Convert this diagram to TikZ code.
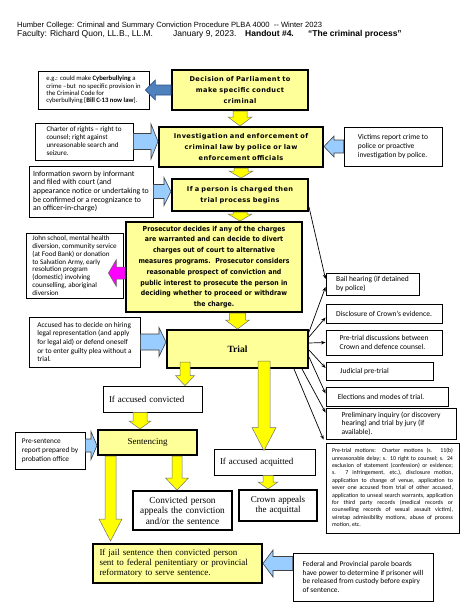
\documentclass[tikz,border=0pt]{standalone}
\usepackage{fontspec}
\setmainfont{Liberation Serif}
\newfontfamily\hdrfont{Liberation Sans}
\newfontfamily\gsfont{Carlito}
\newfontfamily\vbfont[LetterSpace=6]{DejaVu Sans}
\newfontfamily\tbfont[FakeStretch=0.9]{DejaVu Sans}
\usetikzlibrary{calc,arrows.meta}
\definecolor{boxyellow}{HTML}{FFFF99}
\definecolor{arryellow}{HTML}{FFFF00}
\definecolor{lblue}{HTML}{99CCFF}
\definecolor{dblue}{HTML}{4F81BD}
\definecolor{dblueline}{HTML}{2F528F}
\definecolor{pinkarr}{HTML}{FF00FF}
\newcommand\gsz[2]{\gsfont\fontsize{#1}{#2}\selectfont}
\newcommand\vbz[2]{\vbfont\bfseries\fontsize{#1}{#2}\selectfont}
\newcommand\tbz[2]{\tbfont\bfseries\fontsize{#1}{#2}\selectfont}
\newcommand\srz[2]{\rmfamily\fontsize{#1}{#2}\selectfont}
% block arrow: [style]{start}{tip}{shaft half width}{head half width}{head length}
\newcommand\blockarr[6][]{%
  \coordinate (bas) at (#2);
  \coordinate (bae) at (#3);
  \coordinate (bam) at ($(bae)!#6pt!(bas)$);
  \draw[#1] ($(bas)!#4pt!90:(bae)$) -- ($(bam)!#4pt!90:(bae)$) -- ($(bam)!#5pt!90:(bae)$)
    -- (bae) -- ($(bam)!#5pt!-90:(bae)$) -- ($(bam)!#4pt!-90:(bae)$) -- ($(bas)!#4pt!-90:(bae)$) -- cycle;}
\tikzset{
  thinbox/.style={draw=black, line width=0.8pt, fill=white, inner xsep=3pt, inner ysep=1pt, align=left},
  rbox/.style={draw=black, line width=0.9pt, fill=white, inner xsep=3pt, inner ysep=1pt, align=left},
  ybox/.style={draw=black, line width=2pt, fill=boxyellow, inner sep=3pt, align=center},
  wthick/.style={draw=black, line width=2pt, fill=white, inner sep=3pt, align=center},
  yarr/.style={fill=arryellow, draw=black!55, line width=0.5pt, line join=miter},
  barr/.style={fill=lblue, draw=black!75, line width=0.6pt, line join=miter},
  darr/.style={fill=dblue, draw=dblueline, line width=0.6pt, line join=miter},
  parr/.style={fill=pinkarr, draw=black!60, line width=0.5pt, line join=miter},
  conn/.style={draw=black, line width=0.7pt, -{Stealth[length=4.5pt,width=3.5pt]}},
  hdr/.style={inner sep=0pt, anchor=base west, font=\hdrfont}
}
\begin{document}
\begin{tikzpicture}[x=1pt,y=-1pt]
\fill[white] (0,0) rectangle (474,613);
\useasboundingbox (0,0) rectangle (474,613);

% header
\node[hdr] (h1) at (17,27.5) {\fontsize{7.6}{9}\selectfont Humber College: Criminal and Summary Conviction Procedure PLBA 4000\ \ -- Winter 2023};
\node[hdr] (h2) at (17,36.8) {\fontsize{8.5}{10}\selectfont Faculty: Richard Quon, LL.B., LL.M.};
\node[hdr] (h3) at (173,36.8) {\fontsize{8.5}{10}\selectfont January 9, 2023.};
\node[hdr] (h4) at (245,36.8) {\fontsize{8.5}{10}\selectfont\bfseries Handout \#4.};
\node[hdr] (h5) at (308,36.8) {\fontsize{8.5}{10}\selectfont\bfseries “The criminal process”};

% main column
\node[ybox, minimum width=136, minimum height=40, text width=130, font={\vbz{6.6}{11}}] (dec) at (240,90)
  {Decision of Parliament to\\make specific conduct\\criminal};
\node[ybox, minimum width=164, minimum height=40, text width=158, font={\vbz{6.6}{11}}] (inv) at (241,147)
  {Investigation and enforcement of\\criminal law by police or law\\enforcement officials};
\node[ybox, minimum width=136, minimum height=32, text width=130, font={\vbz{6.6}{10.5}}] (charged) at (240,195)
  {If a person is charged then\\trial process begins};
\node[ybox, minimum width=176, minimum height=90, text width=170, font={\tbz{6.9}{10.8}}] (pros) at (214,267)
  {Prosecutor decides if any of the charges\\are warranted and can decide to divert\\charges out of court to alternative\\measures programs.\ \ Prosecutor considers\\reasonable prospect of conviction and\\public interest to prosecute the person in\\deciding whether to proceed or withdraw\\the charge.};
\node[ybox, minimum width=141, minimum height=38, text width=135, font={\srz{9.5}{11}\bfseries}] (trial) at (237.5,349)
  {Trial};
\node[thinbox, inner xsep=6pt, minimum width=99, minimum height=26, text width=87, font={\srz{9}{11}}] (conv) at (152.5,399)
  {If accused convicted};
\node[ybox, minimum width=99, minimum height=25, text width=93, font={\srz{9}{11}}] (sent) at (147.5,442.5)
  {Sentencing};
\node[thinbox, inner xsep=6pt, minimum width=101, minimum height=26, text width=89, font={\srz{9}{11}}] (acq) at (264.5,462)
  {If accused acquitted};
\node[wthick, minimum width=99, minimum height=39, text width=93, font={\srz{9.3}{10.5}}] (appeal) at (182.5,510.5)
  {Convicted person\\appeals the conviction\\and/or the sentence};
\node[wthick, minimum width=78, minimum height=31, text width=72, font={\srz{9}{10.5}}] (crown) at (278,505.5)
  {Crown appeals\\the acquittal};
\node[ybox, align=left, inner xsep=6.5pt, minimum width=169, minimum height=39, text width=156, font={\srz{9}{10}}] (jail) at (177.5,563.5)
  {If jail sentence then convicted person\\sent to federal penitentiary or provincial\\reformatory to serve sentence.};

% left annotations
\node[thinbox, minimum width=111, minimum height=38, font={\gsz{6.7}{7.4}}] (eg) at (93.5,90)
  {e.g.: could make \textbf{Cyberbullying} a\\crime –but\ \ no specific provision in\\the Criminal Code for\\cyberbullying [\textbf{Bill C-13 now law}].};
\node[thinbox, minimum width=98, minimum height=37, font={\gsz{7.1}{8}}] (charter) at (84,141.5)
  {Charter of rights – right to\\counsel; right against\\unreasonable search and\\seizure.};
\node[thinbox, minimum width=124, minimum height=51, font={\gsz{7.8}{8.7}}] (info) at (91,191.5)
  {Information sworn by informant\\and filed with court (and\\appearance notice or undertaking to\\be confirmed or a recognizance to\\an officer-in-charge)};
\node[thinbox, minimum width=97, minimum height=65, font={\gsz{7.1}{7.8}}] (john) at (74.5,265.5)
  {John school, mental health\\diversion, community service\\(at Food Bank) or donation\\to Salvation Army, early\\resolution program\\(domestic) involving\\counselling, aboriginal\\diversion};
\node[thinbox, minimum width=111, minimum height=50, font={\gsz{7.3}{8.7}}] (accused) at (84.5,342)
  {Accused has to decide on hiring\\legal representation (and apply\\for legal aid) or defend oneself\\or to enter guilty plea without a\\trial.};
\node[thinbox, minimum width=70, minimum height=37, font={\gsz{7.3}{9}}] (pre) at (50,450.5)
  {Pre-sentence\\report prepared by\\probation office};

% right annotations
\node[thinbox, minimum width=98, minimum height=39, font={\gsz{7.5}{9}}] (vict) at (393,146.5)
  {Victims report crime to\\police or proactive\\investigation by police.};
\node[thinbox, minimum width=140, minimum height=48, font={\gsz{7.4}{8.7}}] (parole) at (363,577)
  {Federal and Provincial parole boards\\have power to determine if prisoner will\\be released from custody before expiry\\of sentence.};
\node[rbox, minimum width=93, minimum height=22, font={\gsz{7.5}{9}}] (bail) at (372.5,284)
  {Bail hearing (if detained\\by police)};
\node[rbox, minimum width=116, minimum height=19, font={\gsz{7.5}{9}}] (disc) at (384,313.5)
  {Disclosure of Crown’s evidence.};
\node[rbox, minimum width=116, minimum height=25, font={\gsz{7.5}{9}}] (ptd) at (384,342.5)
  {Pre-trial discussions between\\Crown and defence counsel.};
\node[rbox, minimum width=107, minimum height=18, font={\gsz{7.5}{9}}] (jud) at (379.5,371)
  {Judicial pre-trial\hspace*{30pt}};
\node[rbox, minimum width=122, minimum height=19, font={\gsz{7.5}{9}}] (elec) at (387,396.5)
  {Elections and modes of trial.\hspace*{12pt}};
\node[rbox, minimum width=130, minimum height=31, font={\gsz{7.5}{8.5}}] (prel) at (391,423.5)
  {Preliminary inquiry (or discovery\\hearing) and trial by jury (if\\available).};
\node[rbox, inner xsep=6pt, align=justify, minimum width=133, minimum height=90, text width=121, font={\gsz{5.9}{7.4}}] (mot) at (392.5,488)
  {Pre-trial motions: Charter motions (s. 11(b)\linebreak unreasonable delay; s. 10 right to counsel; s. 24\linebreak exclusion of statement (confession) or evidence;\linebreak s. 7 infringement, etc.), disclosure motion,\linebreak application to change of venue, application to\linebreak sever one accused from trial of other accused,\linebreak application to unseal search warrants, application\linebreak for third party records (medical records or\linebreak counselling records of sexual assault victim),\linebreak wiretap admissibility motions, abuse of process\linebreak motion, etc.};

% thin connectors to right boxes
\draw[conn] ($(charged.south east)+(0,-5)$) -- ($(bail.west)+(0,-5)$);
\draw[conn] ($(trial.north east)+(0,3)$) -- ($(bail.west)+(0,3)$);
\draw[conn] ($(trial.north east)+(0,8)$) -- ($(disc.west)+(0,4)$);
\draw[conn] ($(trial.east)+(0,-6)$) -- (ptd.west);
\draw[conn] ($(trial.east)+(0,1)$) -- ($(jud.west)+(0,-3)$);
\draw[conn] ($(trial.east)+(0,8)$) -- ($(elec.west)+(0,-3)$);
\draw[conn] ($(trial.south east)+(-7,0)$) -- ($(prel.north west)+(0,5)$);
\draw[conn] ($(trial.south east)+(-15,0)$) -- ($(mot.north west)+(-2,-3)$);

% block arrows: blue / pink
\blockarr[darr]{dec.west}{$(eg.east)+(-4,0)$}{5}{10}{10}
\blockarr[barr]{charter.east}{inv.west |- charter.east}{8}{17.5}{7}
\blockarr[barr]{vict.west}{inv.east |- vict.west}{6.5}{10.5}{10}
\blockarr[barr]{info.east}{charged.west |- info.east}{7}{14}{7}
\coordinate (pk) at ($(pros.west)+(0,6)$);
\blockarr[parr]{pk}{$(john.east |- pk)+(-15,0)$}{6}{13.5}{8}
\blockarr[barr]{accused.east}{trial.west |- accused.east}{8}{14.5}{7}
\coordinate (ps) at ($(pre.east)+(0,-5)$);
\blockarr[barr]{ps}{sent.west |- ps}{6.5}{14}{6}
\blockarr[barr]{parole.west |- jail.east}{jail.east}{7}{13.5}{10}

% block arrows: yellow
\blockarr[yarr]{dec.south}{dec.south |- inv.north}{7}{12}{9}
\blockarr[yarr]{inv.south}{inv.south |- charged.north}{7}{12}{7}
\blockarr[yarr]{charged.south}{charged.south |- pros.north}{7}{12}{7}
\blockarr[yarr]{trial.north |- pros.south}{trial.north}{8}{12}{9}
\coordinate (t1) at ($(trial.south west)+(19,-7)$);
\blockarr[yarr]{t1}{t1 |- conv.north}{5}{9.5}{10}
\coordinate (t2) at ($(trial.south west)+(98,-8)$);
\blockarr[yarr]{t2}{$(t2 |- acq.north)+(0,2)$}{6}{12}{23}
\coordinate (a1) at ($(acq.south)+(3.5,0)$);
\blockarr[yarr]{a1}{a1 |- crown.north}{5}{10}{7}
\coordinate (c1) at ($(conv.south)+(-12.5,0)$);
\blockarr[yarr]{c1}{c1 |- sent.north}{7}{11}{8}
\coordinate (s1) at ($(sent.south west)+(80,0)$);
\blockarr[yarr]{s1}{s1 |- appeal.north}{5}{11.5}{12}
\coordinate (s2) at ($(sent.south west)+(13.5,0)$);
\blockarr[yarr]{s2}{$(s2 |- jail.north)+(0,-2)$}{5.5}{11.5}{22}
\end{tikzpicture}
\end{document}
